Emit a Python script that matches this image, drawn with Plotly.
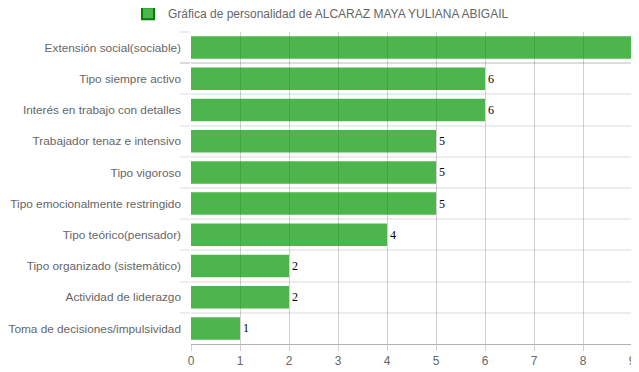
import plotly.graph_objects as go

categories = [
    "Extensión social(sociable)",
    "Tipo siempre activo",
    "Interés en trabajo con detalles",
    "Trabajador tenaz e intensivo",
    "Tipo vigoroso",
    "Tipo emocionalmente restringido",
    "Tipo teórico(pensador)",
    "Tipo organizado (sistemático)",
    "Actividad de liderazgo",
    "Toma de decisiones/impulsividad",
]
values = [9, 6, 6, 5, 5, 5, 4, 2, 2, 1]
series_name = "Gráfica de personalidad de ALCARAZ MAYA YULIANA ABIGAIL"
x_ticks = [0, 1, 2, 3, 4, 5, 6, 7, 8, 9]

fig = go.Figure()
fig.add_trace(go.Bar(
    x=values,
    y=categories,
    orientation="h",
    name=series_name,
    marker=dict(color="rgba(0,150,0,0.7)", line=dict(width=0)),
    text=[str(v) for v in values],
    textposition="outside",
    textfont=dict(family="Liberation Serif, Times New Roman, serif", size=12, color="#000"),
    cliponaxis=False,
    showlegend=False,
))
# legend entry styled like the Chart.js legend box
fig.add_trace(go.Bar(
    x=[None],
    y=[categories[0]],
    orientation="h",
    name=series_name,
    marker=dict(color="rgba(0,150,0,0.7)", line=dict(color="rgb(0,128,0)", width=2)),
    showlegend=True,
    hoverinfo="skip",
))

# page body has an 8px default margin, so the figure is offset by 8px
fig.update_layout(
    width=631,
    height=364,
    margin=dict(l=183, r=7, t=24, b=28, autoexpand=False),
    paper_bgcolor="white",
    plot_bgcolor="white",
    bargap=0.28,
    barmode="overlay",
    font=dict(family="Liberation Sans, Arial, sans-serif", size=12, color="#666"),
    legend=dict(
        orientation="h",
        xref="container",
        x=0.496, xanchor="center",
        yref="paper",
        y=1.06, yanchor="middle",
        font=dict(size=12, color="#666"),
        itemwidth=30,
    ),
    xaxis=dict(
        range=[0, 9],
        tickvals=x_ticks,
        showgrid=True,
        gridcolor="rgba(0,0,0,0.18)",
        gridwidth=1,
        zeroline=False,
        showline=True,
        linecolor="rgba(0,0,0,0.3)",
        ticks="outside",
        ticklen=6,
        tickcolor="rgba(0,0,0,0.18)",
        tickfont=dict(size=12, color="#666"),
        ticklabeloverflow="allow",
        automargin=False,
        fixedrange=True,
    ),
    yaxis=dict(
        autorange="reversed",
        type="category",
        tickson="boundaries",
        showgrid=True,
        gridcolor="rgba(0,0,0,0.07)",
        gridwidth=2,
        showline=False,
        ticks="outside",
        ticklen=10,
        tickwidth=2,
        tickcolor="rgba(0,0,0,0.07)",
        ticklabelstandoff=9,
        tickfont=dict(size=11.8, color="#666"),
        automargin=False,
    ),
)

fig.write_html("out.html")
